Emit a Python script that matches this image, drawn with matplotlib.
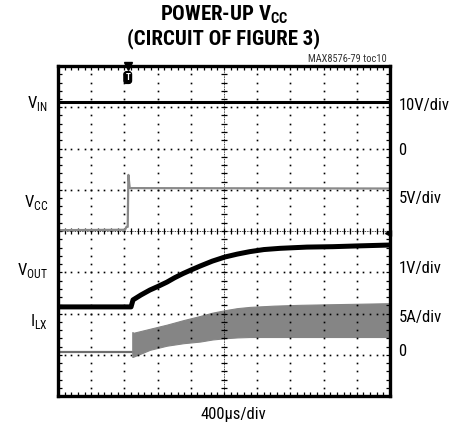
import numpy as np
import matplotlib
matplotlib.use("Agg")
import matplotlib.pyplot as plt
from matplotlib import font_manager as fm

# ---- data (in screen divisions: x 0..10, y 0..8) ----
vin_x = [0.0, 10.0]
vin_y = [7.12, 7.12]

vcc_x = [0.0, 2.02, 2.06, 2.10, 2.12, 2.16, 10.0]
vcc_y = [4.02, 4.03, 4.10, 4.10, 5.36, 5.04, 5.03]

vout_x = [0.0, 2.20, 2.26, 2.50, 2.77, 3.02, 3.28, 3.52, 3.77, 4.02, 4.28, 4.65, 5.03, 5.40, 5.78, 6.20, 6.69, 7.50, 8.28, 9.10, 10.0]
vout_y = [2.16, 2.16, 2.33, 2.45, 2.57, 2.66, 2.76, 2.87, 2.97, 3.06, 3.15, 3.27, 3.37, 3.44, 3.50, 3.55, 3.58, 3.61, 3.62, 3.64, 3.66]

ilx_pre_x = [0.0, 2.26]
ilx_pre_y = [1.07, 1.07]
ilx_band_x = [2.26, 2.77, 3.28, 3.78, 4.28, 4.65, 5.03, 5.40, 5.78, 6.50, 7.29, 8.60, 10.0]
ilx_upper = [1.53, 1.63, 1.73, 1.84, 1.94, 2.02, 2.08, 2.13, 2.16, 2.19, 2.21, 2.23, 2.25]
ilx_lower = [0.95, 1.12, 1.22, 1.28, 1.32, 1.37, 1.40, 1.42, 1.43, 1.43, 1.43, 1.43, 1.43]

trigger_x = 2.1
left_labels = [(7.1, "V$_{\\mathrm{IN}}$"), (4.7, "V$_{\\mathrm{CC}}$"), (3.05, "V$_{\\mathrm{OUT}}$"), (1.8, "I$_{\\mathrm{LX}}$")]
right_labels = [(7.05, "10V/div"), (5.96, "0"), (4.8, "5V/div"), (3.1, "1V/div"), (1.9, "5A/div"), (1.07, "0")]

names = {f.name for f in fm.fontManager.ttflist}
narrow = None
for cand in ["Liberation Sans Narrow", "Roboto Condensed", "Open Sans Condensed", "DejaVu Sans"]:
    if cand in names:
        narrow = cand
        break
plt.rcParams["font.family"] = [narrow, "DejaVu Sans"]
plt.rcParams["font.stretch"] = "condensed"
plt.rcParams["mathtext.fontset"] = "custom"
plt.rcParams["mathtext.rm"] = narrow + ":stretch=condensed"
plt.rcParams["mathtext.bf"] = narrow + ":bold:stretch=condensed"

fig = plt.figure(figsize=(4.51, 4.37), dpi=100)
ax = fig.add_axes([58/451, 1 - 396/437, 332/451, 330/437])
ax.set_xlim(0, 10)
ax.set_ylim(0, 8)

# grid dots
minor = np.arange(0, 8.001, 0.2)
minor_x = np.arange(0, 10.001, 0.2)
for gx in range(1, 10):
    if gx == 5:
        continue
    ax.plot(np.full_like(minor, gx), minor, ls="none", marker="s", ms=1.2, color="black", mew=0)
for gy in range(1, 8):
    if gy == 4:
        continue
    ax.plot(minor_x, np.full_like(minor_x, gy), ls="none", marker="s", ms=1.2, color="black", mew=0)
# center axes with cross ticks
ax.plot([5, 5], [0, 8], color="black", lw=0.6, ls=(0, (1, 1)))
ax.plot([0, 10], [4, 4], color="black", lw=0.6, ls=(0, (1, 1)))
ax.plot(np.full_like(minor, 5), minor, ls="none", marker="_", ms=5, mew=0.9, color="black")
ax.plot(minor_x, np.full_like(minor_x, 4), ls="none", marker="|", ms=5, mew=0.9, color="black")

# traces
ax.fill_between(ilx_band_x, ilx_lower, ilx_upper, color="#858585", lw=0.8, edgecolor="#858585")
ax.plot(ilx_pre_x, ilx_pre_y, color="#6e6e6e", lw=1.6)
ax.plot([2.26, 2.26], [ilx_lower[0], ilx_upper[0]], color="#858585", lw=1.2)
ax.plot(vcc_x, vcc_y, color="#8a8a8a", lw=1.6)
ax.plot(vin_x, vin_y, color="black", lw=2.2)
ax.plot(vout_x, vout_y, color="black", lw=3.6, solid_capstyle="butt")

# markers
ax.plot([trigger_x], [8.0], marker="v", ms=6, color="black", clip_on=False)
ax.text(trigger_x, 7.72, "T", color="white", ha="center", va="center", fontsize=6.5,
        fontweight="bold",
        bbox=dict(boxstyle="round,pad=0.15,rounding_size=0.3", fc="black", ec="black"))
ax.plot([9.93], [3.94], marker="<", ms=4, color="black", clip_on=False)

# ticks along border
ax.set_xticks(range(0, 11))
ax.set_yticks(range(0, 9))
ax.set_xticks(minor_x, minor=True)
ax.set_yticks(minor, minor=True)
ax.tick_params(which="both", direction="in", length=3, width=0.9, top=True, right=True,
               labelbottom=False, labelleft=False)
for s in ax.spines.values():
    s.set_linewidth(2.4)

# texts
fig.text(224/451, 1 - 15/437, "POWER-UP V$_{\\mathbf{CC}}$", ha="center", va="center",
         fontsize=15, fontweight="bold")
fig.text(224/451, 1 - 39/437, "(CIRCUIT OF FIGURE 3)", ha="center", va="center",
         fontsize=15, fontweight="bold")
fig.text(387/451, 1 - 59/437, "MAX8576-79 toc10", ha="right", va="center", fontsize=7.5, color="#333333")
for yv, t in left_labels:
    ax.text(-0.3, yv, t, ha="right", va="center", fontsize=12)
for yv, t in right_labels:
    ax.text(10.25, yv, t, ha="left", va="center", fontsize=12)
fig.text(233/451, 1 - 415/437, "400\u00b5s/div", ha="center", va="center", fontsize=12)

fig.savefig("out.png", dpi=100)
